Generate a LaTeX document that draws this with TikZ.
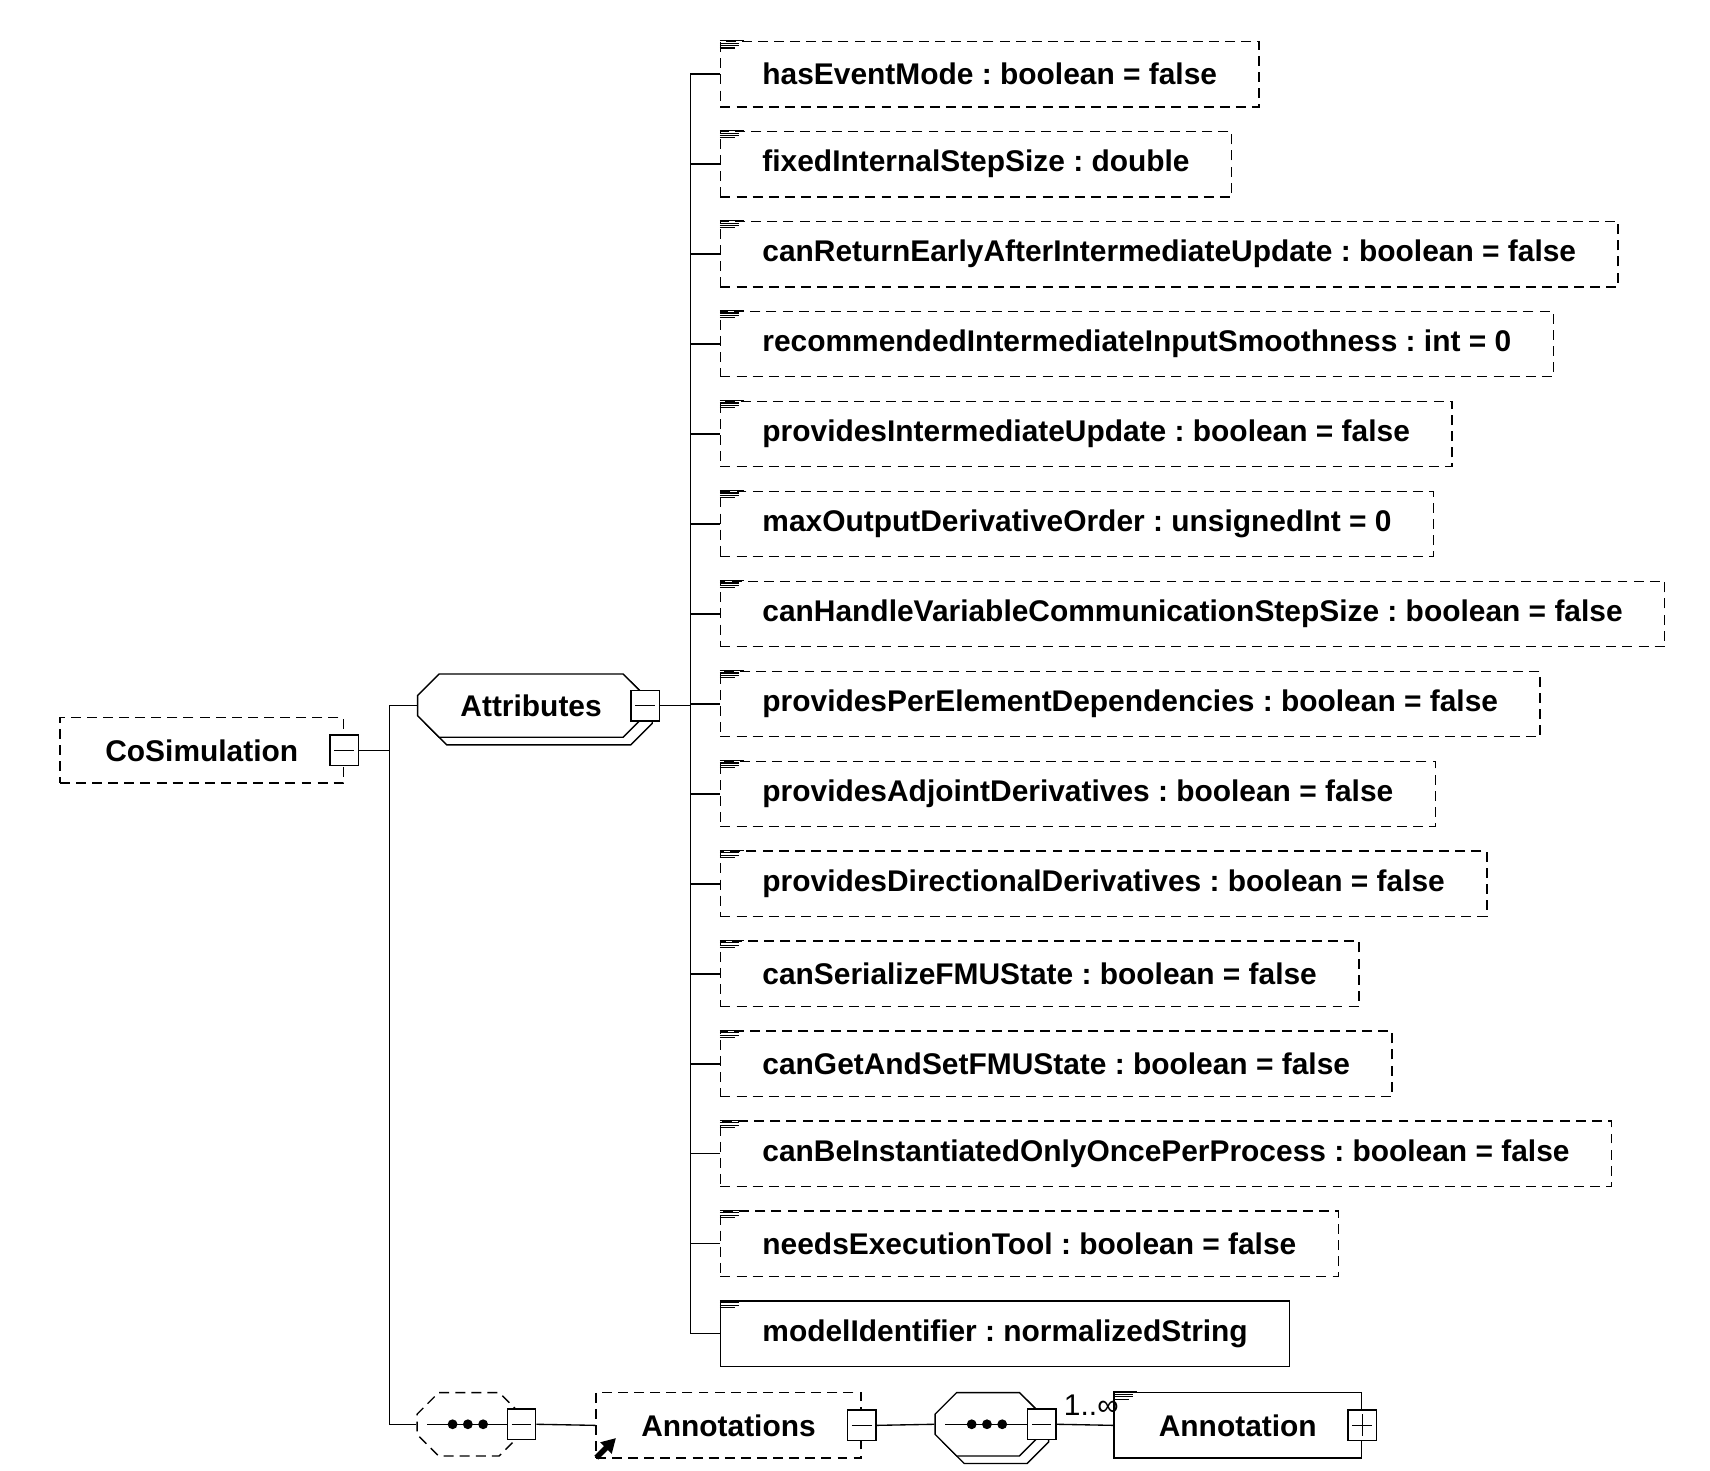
\documentclass[tikz,border=0pt]{standalone}
\usepackage{fontspec}
\setmainfont{Liberation Sans}
\frenchspacing
\usetikzlibrary{calc,arrows.meta,shapes.misc,shadows,math}

\begin{document}
\begin{tikzpicture}[
		x=0.01cm,y=-0.01cm,
		every node/.style={node font=\fontsize{7.8}{9.4}\selectfont\bfseries},
		conn/.style={line width=0.35pt},
		dashbox/.style={dash pattern=on 2.6pt off 1.6pt},
		element/.style={draw,conn,fill=white,minimum height=0.6cm,inner xsep=0.385cm,inner ysep=0pt},
		optelement/.style={element,dashbox},
		compositor/.style={draw,conn,fill=white,chamfered rectangle,chamfered rectangle xsep=0.17cm,
			minimum height=0.58cm,inner sep=0pt},
		multi/.style={general shadow={draw,conn,fill=white,shadow xshift=0.07cm,shadow yshift=-0.07cm}},
		minusbox/.style={draw,conn,fill=white,minimum width=0.26cm,minimum height=0.28cm,inner sep=0pt,
			path picture={\draw[conn] ($(path picture bounding box.west)+(4,0)$) -- ($(path picture bounding box.east)+(-4,0)$);}},
		plusbox/.style={minusbox,
			path picture={\draw[conn] ($(path picture bounding box.west)+(4,0)$) -- ($(path picture bounding box.east)+(-4,0)$)
				($(path picture bounding box.north)+(0,4)$) -- ($(path picture bounding box.south)+(0,-4)$);}},
		pics/doclines/.style={code={
			\draw[line width=0.3pt] (0,0) -- (22,0) (0,2.2) -- (18,2.2) (0,4.4) -- (18,4.4) (0,6.6) -- (14,6.6);
		}}
	]
	\useasboundingbox (0,0) rectangle (1568,1348);
	\tikzmath{\attx=660; \atty=68; \dy=82.5;}
	%
	% root element
	\node[optelement,minimum width=2.6cm] (cosim) at (185,688) {CoSimulation};
	\node[minusbox] (cosim_exp) at (cosim.east) {};
	% attribute group
	\node[compositor,multi,minimum width=2.08cm] (attrs) at (487,647) {Attributes};
	\node[minusbox] (attrs_exp) at (attrs.east) {};
	\draw[conn] (cosim_exp.east) -- ++(28,0) |- (attrs.west);
	% attributes
	\foreach \i/\txt in {1/hasEventMode : boolean = false,
			2/fixedInternalStepSize : double,
			3/canReturnEarlyAfterIntermediateUpdate : boolean = false,
			4/recommendedIntermediateInputSmoothness : int = 0,
			5/providesIntermediateUpdate : boolean = false,
			6/maxOutputDerivativeOrder : unsignedInt = 0,
			7/canHandleVariableCommunicationStepSize : boolean = false,
			8/providesPerElementDependencies : boolean = false,
			9/providesAdjointDerivatives : boolean = false,
			10/providesDirectionalDerivatives : boolean = false,
			11/canSerializeFMUState : boolean = false,
			12/canGetAndSetFMUState : boolean = false,
			13/canBeInstantiatedOnlyOncePerProcess : boolean = false,
			14/needsExecutionTool : boolean = false} {
		\node[optelement,anchor=west] (att\i) at (\attx,{\atty+(\i-1)*\dy}) {\txt};
		\pic at (att\i.north west) {doclines};
		\draw[conn] (attrs_exp.east) -- ++(28,0) |- (att\i.west);
	}
	\node[element,anchor=west] (att15) at (\attx,{\atty+14*\dy}) {modelIdentifier : normalizedString};
	\pic at (att15.north west) {doclines};
	\draw[conn] (attrs_exp.east) -- ++(28,0) |- (att15.west);
	%
	% annotations branch
	\node[compositor,dashbox,minimum width=0.95cm] (seq_a) at (430,1306) {\hspace*{0.6cm}\vphantom{Attributes}};
	\node[minusbox] (seq_a_exp) at (seq_a.east) {};
	\draw[conn] (cosim_exp.east) -- ++(28,0) |- (seq_a.west);
	\node[optelement,minimum width=2.43cm] (annots) at (668,1307) {Annotations};
	\node[minusbox] (annots_exp) at (annots.east) {};
	\draw[line width=1.4pt,-{Triangle[length=0.13cm,width=0.14cm]}] ($(annots.south west)+(1,-1)$) -- ++(18,-18);
	\draw[conn] (seq_a_exp.east) -- (annots.west);
	\node[compositor,multi,minimum width=0.97cm] (seq_b) at (906,1306) {\hspace*{0.6cm}\vphantom{Attributes}};
	\node[minusbox] (seq_b_exp) at (seq_b.east) {};
	\draw[conn] (annots_exp.east) -- (seq_b.west);
	\node[element,minimum width=2.27cm] (annot) at (1135,1307) {Annotation};
	\node[plusbox] (annot_exp) at (annot.east) {};
	\pic at (annot.north west) {doclines};
	\draw[conn] (seq_b_exp.east) -- node[pos=1,anchor=south east,inner sep=1pt,xshift=0.09cm,yshift=0.05cm,
		node font=\fontsize{7.8}{9.4}\selectfont] {1..∞} (annot.west);
	% sequence symbols
	\foreach \s in {seq_a,seq_b} {
		\draw[conn] ($(\s.west)+(10,0)$) -- (\s_exp.west);
		\foreach \dx in {-15,-1,13}
			\fill ($(\s.center)+(\dx,0)$) circle (0.045cm);
	}
\end{tikzpicture}
\end{document}
